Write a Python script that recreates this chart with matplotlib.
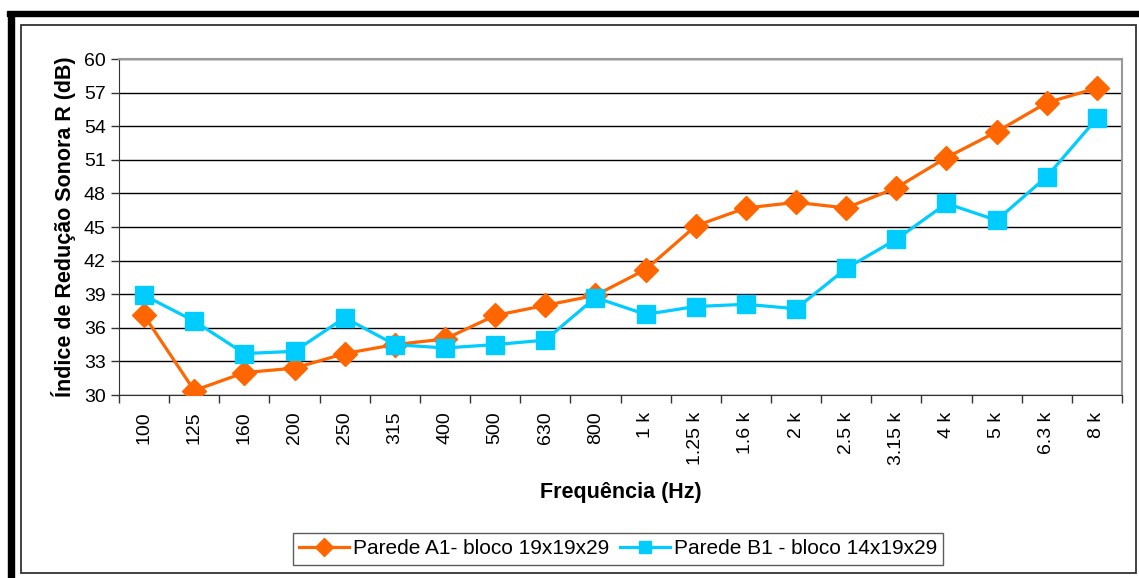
import matplotlib
matplotlib.use("Agg")
import matplotlib.pyplot as plt
from matplotlib.patches import Rectangle
import numpy as np

plt.rcParams['font.family'] = ['Liberation Sans', 'DejaVu Sans']

# frequencies (Hz)
freqs = ['100', '125', '160', '200', '250', '315', '400', '500', '630', '800',
         '1 k', '1.25 k', '1.6 k', '2 k', '2.5 k', '3.15 k', '4 k', '5 k', '6.3 k', '8 k']

# sound reduction index R (dB)
parede_a1 = [37.1, 30.4, 32.0, 32.4, 33.7, 34.5, 35.0, 37.1, 38.0, 38.9,
             41.2, 45.1, 46.7, 47.2, 46.7, 48.5, 51.2, 53.5, 56.1, 57.4]
parede_b1 = [38.9, 36.6, 33.7, 33.9, 36.9, 34.5, 34.2, 34.5, 34.9, 38.7,
             37.2, 37.9, 38.1, 37.7, 41.3, 43.9, 47.1, 45.6, 49.5, 54.7]

label_a1 = 'Parede A1- bloco 19x19x29'
label_b1 = 'Parede B1 - bloco 14x19x29'

fig = plt.figure(figsize=(11.39, 5.78), dpi=100)

# outer frame: thick black top and left, thin inner box
fig.patches.append(Rectangle((7 / 1139, 1 - 16 / 578), 1 - 7 / 1139, 5 / 578,
                             transform=fig.transFigure, color='black', zorder=0))
fig.patches.append(Rectangle((8 / 1139, 0), 6 / 1139, 1 - 12 / 578,
                             transform=fig.transFigure, color='black', zorder=0))
fig.patches.append(Rectangle((21 / 1139, 5 / 578), 1115 / 1139, 548 / 578,
                             transform=fig.transFigure, fill=False,
                             edgecolor='#333333', linewidth=1.3, zorder=0))

ax = fig.add_axes([119 / 1139, 1 - 395 / 578, 1003 / 1139, 336 / 578])
x = np.arange(len(freqs))

ax.plot(x, parede_a1, color='#FF6600', marker='D', markersize=12.5, linewidth=2.3,
        label=label_a1, zorder=3)
ax.plot(x, parede_b1, color='#00CCFF', marker='s', markersize=13, linewidth=2.3,
        label=label_b1, zorder=3)

ax.set_xlim(-0.5, len(freqs) - 0.5)
ax.set_ylim(30, 60)
ax.set_yticks(np.arange(30, 61, 3))
ax.yaxis.grid(True, color='black', linewidth=1)
ax.set_axisbelow(True)

ax.set_xticks(x)
ax.set_xticklabels(freqs, rotation=90)
ax.set_xticks(np.arange(-0.5, len(freqs), 1), minor=True)
ax.tick_params(axis='x', which='major', length=0, pad=12, labelsize=14)
ax.tick_params(axis='x', which='minor', length=6, width=1, color='#333333')
ax.tick_params(axis='y', length=6, width=1, color='#333333', labelsize=14)

for side in ['top', 'right']:
    ax.spines[side].set_color('#999999')
    ax.spines[side].set_linewidth(1.5)
ax.spines['left'].set_color('#333333')
ax.spines['bottom'].set_color('#333333')

ax.set_ylabel('Índice de Redução Sonora R (dB)', fontsize=15.5, fontweight='bold', labelpad=6)
ax.set_xlabel('Frequência (Hz)', fontsize=15.5, fontweight='bold', labelpad=12)

leg = fig.legend(loc='center', bbox_to_anchor=(618 / 1139, 1 - 549 / 578), ncol=2,
                 fontsize=15, frameon=True, fancybox=False, edgecolor='#333333',
                 handlelength=2.4, columnspacing=0.5, handletextpad=0.2,
                 borderpad=0.3, markerscale=0.7)
leg.get_frame().set_linewidth(1)

fig.savefig('out.png', dpi=100)
